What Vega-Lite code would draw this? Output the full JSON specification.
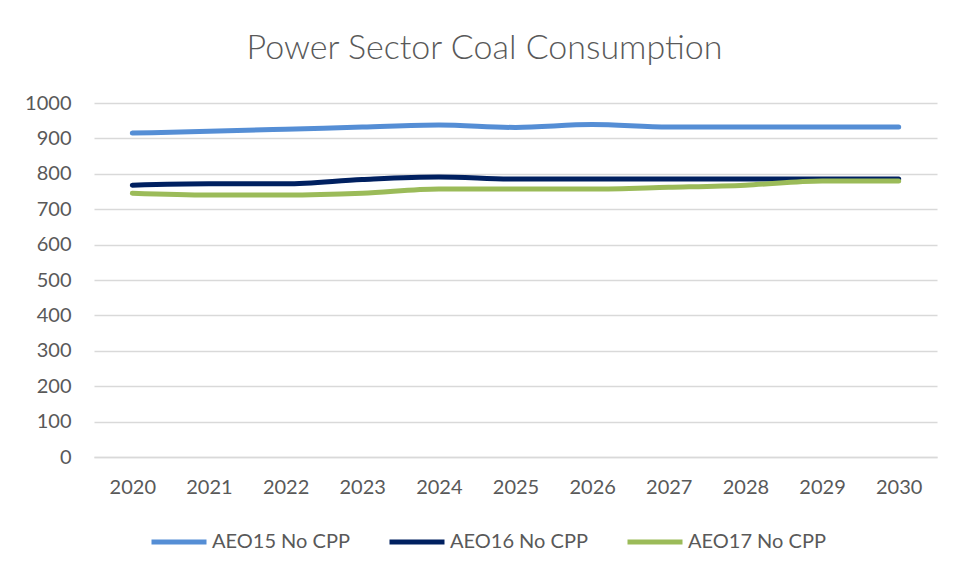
{
  "$schema": "https://vega.github.io/schema/vega-lite/v6.json",
  "width": 843,
  "height": 354,
  "autosize": {"type": "none"},
  "padding": {"left": 94, "top": 103, "right": 27, "bottom": 121},
  "background": "white",
  "title": {
    "text": "Power Sector Coal Consumption",
    "font": "Lato",
    "fontSize": 34,
    "fontWeight": 300,
    "color": "#595959",
    "anchor": "middle",
    "dx": -31,
    "offset": 27
  },
  "data": {
    "values": [
      {"year": 2020, "series": "AEO15 No CPP", "value": 915},
      {"year": 2021, "series": "AEO15 No CPP", "value": 920},
      {"year": 2022, "series": "AEO15 No CPP", "value": 926},
      {"year": 2023, "series": "AEO15 No CPP", "value": 932},
      {"year": 2024, "series": "AEO15 No CPP", "value": 938},
      {"year": 2025, "series": "AEO15 No CPP", "value": 931},
      {"year": 2026, "series": "AEO15 No CPP", "value": 939},
      {"year": 2027, "series": "AEO15 No CPP", "value": 932},
      {"year": 2028, "series": "AEO15 No CPP", "value": 932},
      {"year": 2029, "series": "AEO15 No CPP", "value": 932},
      {"year": 2030, "series": "AEO15 No CPP", "value": 932},
      {"year": 2020, "series": "AEO16 No CPP", "value": 768},
      {"year": 2021, "series": "AEO16 No CPP", "value": 772},
      {"year": 2022, "series": "AEO16 No CPP", "value": 772},
      {"year": 2023, "series": "AEO16 No CPP", "value": 784},
      {"year": 2024, "series": "AEO16 No CPP", "value": 791},
      {"year": 2025, "series": "AEO16 No CPP", "value": 785},
      {"year": 2026, "series": "AEO16 No CPP", "value": 785},
      {"year": 2027, "series": "AEO16 No CPP", "value": 785},
      {"year": 2028, "series": "AEO16 No CPP", "value": 785},
      {"year": 2029, "series": "AEO16 No CPP", "value": 785},
      {"year": 2030, "series": "AEO16 No CPP", "value": 785},
      {"year": 2020, "series": "AEO17 No CPP", "value": 745},
      {"year": 2021, "series": "AEO17 No CPP", "value": 740},
      {"year": 2022, "series": "AEO17 No CPP", "value": 740},
      {"year": 2023, "series": "AEO17 No CPP", "value": 745},
      {"year": 2024, "series": "AEO17 No CPP", "value": 757},
      {"year": 2025, "series": "AEO17 No CPP", "value": 757},
      {"year": 2026, "series": "AEO17 No CPP", "value": 757},
      {"year": 2027, "series": "AEO17 No CPP", "value": 762},
      {"year": 2028, "series": "AEO17 No CPP", "value": 768},
      {"year": 2029, "series": "AEO17 No CPP", "value": 780},
      {"year": 2030, "series": "AEO17 No CPP", "value": 780}
    ]
  },
  "mark": {"type": "line", "strokeWidth": 5, "strokeCap": "round", "strokeJoin": "round", "interpolate": "monotone"},
  "encoding": {
    "x": {
      "field": "year",
      "type": "ordinal",
      "scale": {"type": "point", "padding": 0.5},
      "axis": {
        "title": null,
        "labelAngle": 0,
        "labelFont": "Lato",
        "labelFontSize": 20,
        "labelColor": "#595959",
        "labelPadding": 20,
        "ticks": false,
        "domainColor": "#D9D9D9",
        "domainWidth": 1.5,
        "grid": false
      }
    },
    "y": {
      "field": "value",
      "type": "quantitative",
      "scale": {"domain": [0, 1000], "nice": false},
      "axis": {
        "title": null,
        "values": [0, 100, 200, 300, 400, 500, 600, 700, 800, 900, 1000],
        "format": "d",
        "labelFont": "Lato",
        "labelFontSize": 20,
        "labelColor": "#595959",
        "labelPadding": 23,
        "ticks": false,
        "domain": false,
        "grid": true,
        "gridColor": "#D9D9D9",
        "gridWidth": 1.5
      }
    },
    "color": {
      "field": "series",
      "type": "nominal",
      "scale": {
        "domain": ["AEO15 No CPP", "AEO16 No CPP", "AEO17 No CPP"],
        "range": ["#558ED5", "#002060", "#9BBB59"]
      },
      "legend": {
        "title": null,
        "orient": "none",
        "direction": "horizontal",
        "legendX": 55,
        "legendY": 409,
        "symbolType": "stroke",
        "symbolSize": 3025,
        "symbolStrokeWidth": 5,
        "labelFont": "Lato",
        "labelFontSize": 20,
        "labelColor": "#595959",
        "labelOffset": 3,
        "columnPadding": 29,
        "labelLimit": 300
      }
    }
  },
  "config": {"view": {"stroke": null}}
}
